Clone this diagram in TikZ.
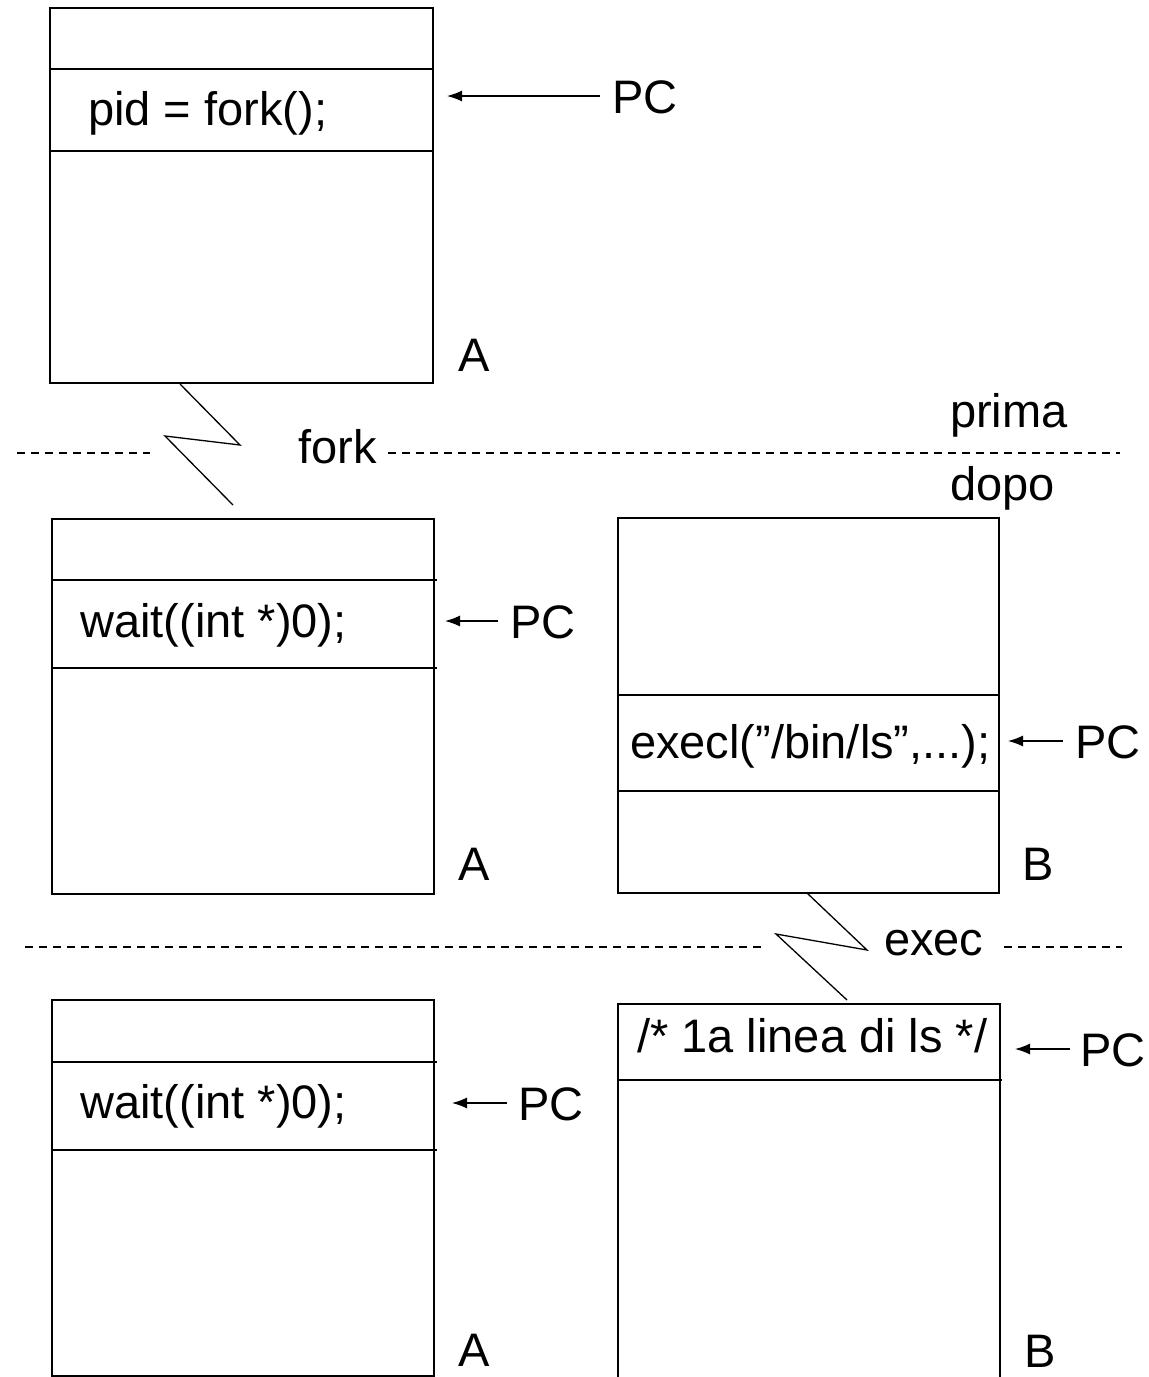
\documentclass[tikz,border=0pt]{standalone}
\usepackage{fontspec}
\setmainfont{Liberation Sans}
\usetikzlibrary{arrows.meta}
\begin{document}
\begin{tikzpicture}[x=1pt,y=-1pt,
  boxline/.style={line width=1.6pt},
  sepline/.style={line width=1.6pt},
  zig/.style={line width=1.3pt, line join=miter},
  sepdash/.style={line width=1.3pt, dash pattern=on 8pt off 6pt},
  pcarrow/.style={line width=1.3pt, arrows={-Latex[length=15pt,width=11pt]}},
  txt/.style={inner sep=0pt, anchor=base west, font=\fontsize{47}{51}\selectfont}]
\useasboundingbox (0,0) rectangle (1149,1377);

% Box 1 (A, before fork)
\draw[boxline] (50,8) rectangle (433,383);
\draw[sepline] (50,69) -- (433,69);
\draw[sepline] (50,151) -- (433,151);
\node[txt] (pid) at (88,125) {pid = fork();};
\node[txt] (pc1) at (612,113) {PC};
\coordinate (t1) at (447,96);
\coordinate (s1) at (600,96);
\draw[pcarrow] (s1) -- (t1);
\node[txt] (a1) at (458,371) {A};

% fork separator
\coordinate (z1a) at (180,384);
\coordinate (z1b) at (240,445);
\coordinate (z1c) at (165,436);
\coordinate (z1d) at (233,505);
\draw[zig] (z1a) -- (z1b) -- (z1c) -- (z1d);
\node[txt] (fork) at (298,463) {fork};
\coordinate (d1a) at (17,453);
\coordinate (d1b) at (150,453);
\coordinate (d1c) at (388,453);
\coordinate (d1d) at (1120,453);
\draw[sepdash] (d1a) -- (d1b);
\draw[sepdash] (d1c) -- (d1d);
\node[txt] (prima) at (950,427) {prima};
\node[txt] (dopo) at (950,500) {dopo};

% Box 2 (A, after fork)
\draw[boxline] (52,519) rectangle (434,894);
\draw[sepline] (52,580) -- (437,580);
\draw[sepline] (52,668) -- (437,668);
\node[txt] (wait1) at (80,637) {wait((int *)0);};
\node[txt] (pc2) at (510,638) {PC};
\coordinate (t2) at (445,621);
\coordinate (s2) at (498,621);
\draw[pcarrow] (s2) -- (t2);
\node[txt] (a2) at (458,880) {A};

% Box 3 (B, after fork)
\draw[boxline] (618,518) rectangle (999,893);
\draw[sepline] (618,695) -- (999,695);
\draw[sepline] (618,791) -- (999,791);
\node[txt] (execl) at (630,758) {execl(”/bin/ls”,...);};
\node[txt] (pc3) at (1075,758) {PC};
\coordinate (t3) at (1008,741);
\coordinate (s3) at (1063,741);
\draw[pcarrow] (s3) -- (t3);
\node[txt] (b1) at (1022,880) {B};

% exec separator
\coordinate (z2a) at (807,893);
\coordinate (z2b) at (867,950);
\coordinate (z2c) at (776,934);
\coordinate (z2d) at (847,1000);
\draw[zig] (z2a) -- (z2b) -- (z2c) -- (z2d);
\node[txt] (exec) at (884,955) {exec};
\coordinate (d2a) at (25,947);
\coordinate (d2b) at (763,947);
\coordinate (d2c) at (1004,947);
\coordinate (d2d) at (1122,947);
\draw[sepdash] (d2a) -- (d2b);
\draw[sepdash] (d2c) -- (d2d);

% Box 4 (A, after exec)
\draw[boxline] (52,1000) rectangle (434,1376);
\draw[sepline] (52,1062) -- (437,1062);
\draw[sepline] (52,1150) -- (437,1150);
\node[txt] (wait2) at (80,1118) {wait((int *)0);};
\node[txt] (pc4) at (518,1120) {PC};
\coordinate (t4) at (452,1103);
\coordinate (s4) at (507,1103);
\draw[pcarrow] (s4) -- (t4);
\node[txt] (a3) at (458,1366) {A};

% Box 5 (B, after exec)
\draw[boxline] (618,1377) -- (618,1004) -- (1000,1004) -- (1000,1377);
\draw[sepline] (618,1080) -- (1002,1080);
\node[txt] (ls) at (637,1052) {/* 1a linea di ls */};
\node[txt] (pc5) at (1080,1066) {PC};
\coordinate (t5) at (1015,1049);
\coordinate (s5) at (1070,1049);
\draw[pcarrow] (s5) -- (t5);
\node[txt] (b2) at (1024,1367) {B};
\end{tikzpicture}
\end{document}
